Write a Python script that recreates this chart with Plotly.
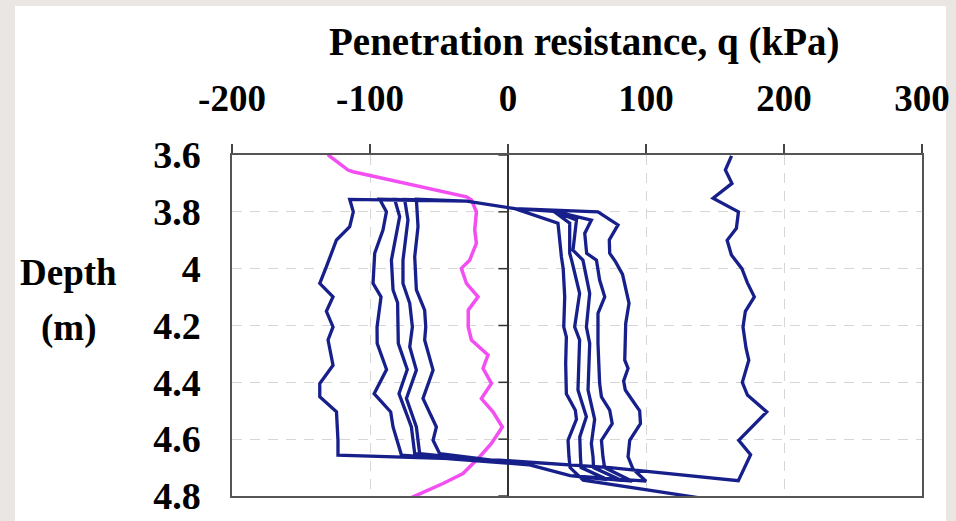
import plotly.graph_objects as go

# ---------------- data ----------------
# first push: far-right curve (q in kPa, depth in m), top -> bottom
far_q = [162, 157.5, 162.3, 148.6, 167.0, 165.5, 158.8, 161.9, 169.5, 173.5, 178.5, 172.0,
         170.3, 172.5, 174.5, 169.8, 173.5, 187.5, 167.2, 175.8, 166.9]
far_d = [3.603, 3.653, 3.700, 3.752, 3.800, 3.858, 3.900, 3.952, 4.000, 4.050, 4.099, 4.150,
         4.205, 4.280, 4.322, 4.400, 4.445, 4.504, 4.604, 4.655, 4.746]
far_ret_q = [74, -6]
far_ret_d = [4.700, 4.674]

# pull-out (negative) curves, listed top -> bottom
L1_q = [-114.7, -112.1, -114.7, -124.3, -128.0, -131.6, -136.4, -126.8, -131.6, -126.8,
        -130.4, -126.8, -136.4, -136.4, -124.3, -123.2, -123.2]
L1_d = [3.756, 3.800, 3.852, 3.899, 3.946, 3.993, 4.052, 4.099, 4.150, 4.205,
        4.251, 4.340, 4.404, 4.451, 4.504, 4.604, 4.656]
L2_q = [-93.0, -88.1, -90.6, -96.6, -97.8, -92.0, -94.9, -94.8, -88.0, -97.0, -85.0, -83.3, -77.2]
L2_d = [3.756, 3.800, 3.864, 3.946, 4.052, 4.099, 4.205, 4.263, 4.355, 4.440, 4.504, 4.557, 4.656]
L3_q = [-82.1, -78.5, -84.5, -83.3, -80.0, -79.7, -79.5, -73.0, -79.0, -70.0, -67.6]
L3_d = [3.756, 3.817, 3.970, 4.075, 4.120, 4.205, 4.263, 4.355, 4.440, 4.557, 4.651]
L4_q = [-74.9, -72.5, -76.1, -76.1, -71.2, -69.3, -71.2, -66.4, -73.6, -66.4, -64.0]
L4_d = [3.756, 3.829, 3.970, 4.052, 4.122, 4.205, 4.275, 4.357, 4.457, 4.557, 4.651]
L5_q = [-66.4, -65.2, -67.6, -66.4, -60.4, -59.6, -60.4, -54.3, -61.6, -51.9, -54.3, -49.5]
L5_d = [3.756, 3.852, 3.958, 4.075, 4.146, 4.205, 4.251, 4.357, 4.457, 4.557, 4.604, 4.651]

# re-push (positive) curves, listed top -> bottom
R5_q = [65.2, 79.7, 73.4, 73.7, 78.0, 83.0, 85.8, 87.7, 85.3, 84.6, 87.0, 83.8, 85.0, 95.4, 96.0,
        88.2, 87.0, 90.6]
R5_d = [3.800, 3.846, 3.899, 3.946, 3.976, 4.020, 4.075, 4.122, 4.193, 4.322, 4.351, 4.395, 4.427,
        4.500, 4.545, 4.604, 4.662, 4.705]
R4_q = [60.4, 55.6, 57.0, 64.1, 66.4, 70.1, 65.2, 65.2, 66.4, 67.7, 73.7, 75.5, 67.7, 68.8, 70.0]
R4_d = [3.829, 3.876, 3.946, 3.970, 4.040, 4.099, 4.157, 4.263, 4.404, 4.451, 4.498, 4.545,
        4.604, 4.662, 4.700]
R3_q = [49.6, 47.1, 54.3, 59.2, 56.8, 59.2, 58.0, 62.8, 60.4, 61.6, 62.0]
R3_d = [3.829, 3.935, 3.970, 4.087, 4.205, 4.263, 4.427, 4.530, 4.615, 4.662, 4.700]
R2_q = [44.7, 44.7, 46.1, 51.9, 48.3, 51.9, 50.7, 56.8, 52.0, 52.5, 53.0]
R2_d = [3.840, 3.946, 3.970, 4.087, 4.205, 4.251, 4.427, 4.521, 4.592, 4.662, 4.700]
R1_q = [36.2, 38.7, 40.0, 41.1, 40.4, 42.3, 41.8, 42.3, 48.8, 49.6, 43.5, 44.2, 45.0]
R1_d = [3.840, 3.958, 4.000, 4.099, 4.205, 4.240, 4.334, 4.440, 4.498, 4.530, 4.604, 4.662, 4.700]

# turn-around links
top_link_q = [-30, 5, 33]
top_link_d = [3.762, 3.789, 3.798]
tip_q = [100, 90, 82, 72]          # bottom tips after R5, R4, R3, R2
tip_d = [4.748, 4.748, 4.745, 4.742]
bot_ret_q = [45, 15]
bot_ret_d = [4.728, 4.690]
exit_q = [54.5, 129.3, 200]
exit_d = [4.744, 4.800, 4.852]

# second test (magenta), top -> bottom
mag_q = [-130.5, -129.2, -115.9, -112.3, -30.1, -26.5, -22.9, -24.1, -22.9, -27.8, -33.8, -30.1,
         -21.7, -28.8, -28.8, -26.5, -14.5, -18.1, -12.0, -19.3, -10.9, -4.1, -12.0, -20.5,
         -32.6, -47.1, -68.8, -80.0]
mag_d = [3.598, 3.604, 3.653, 3.659, 3.747, 3.758, 3.800, 3.864, 3.911, 3.970, 3.999, 4.052,
         4.099, 4.146, 4.205, 4.251, 4.304, 4.351, 4.404, 4.457, 4.504, 4.557, 4.615, 4.662,
         4.721, 4.756, 4.803, 4.825]

x_ticks = [-200, -100, 0, 100, 200, 300]
x_tick_text = ["-200", "-100", "0", "100", "200", "300"]
y_ticks = [3.6, 3.8, 4.0, 4.2, 4.4, 4.6, 4.8]
y_tick_text = ["3.6", "3.8", "4", "4.2", "4.4", "4.6", "4.8"]

# ---------------- build the continuous cyclic path ----------------
lefts = [(L1_q, L1_d), (L2_q, L2_d), (L3_q, L3_d), (L4_q, L4_d), (L5_q, L5_d)]
rights = [(R5_q, R5_d), (R4_q, R4_d), (R3_q, R3_d), (R2_q, R2_d), (R1_q, R1_d)]

path_q = list(far_q) + far_ret_q
path_d = list(far_d) + far_ret_d
for i in range(5):
    lq, ld = lefts[i]
    rq, rd = rights[i]
    link_q = top_link_q if i < 4 else top_link_q[:2]
    link_d = top_link_d if i < 4 else top_link_d[:2]
    if i == 0:
        link_q, link_d = top_link_q[:2], top_link_d[:2]
    path_q += lq[::-1] + link_q
    path_d += ld[::-1] + link_d
    path_q += rq
    path_d += rd
    if i < 4:
        path_q += [tip_q[i]] + bot_ret_q
        path_d += [tip_d[i]] + bot_ret_d
path_q += exit_q
path_d += exit_d

BLUE = "#17208a"
MAG = "#f24ef2"
FONT = "Liberation Serif"

fig = go.Figure()
fig.add_trace(go.Scatter(x=mag_q, y=mag_d, mode="lines",
                         line=dict(color=MAG, width=3.5), showlegend=False, hoverinfo="skip"))
fig.add_trace(go.Scatter(x=path_q, y=path_d, mode="lines",
                         line=dict(color=BLUE, width=3.3), showlegend=False, hoverinfo="skip"))

W, H = 956, 521
L, R, T, B = 232, 34, 155, 25
pw, ph = W - L - R, H - T - B


def px(xp):
    return (xp - L) / pw


def py(yp):
    return (H - B - yp) / ph


shapes = [
    dict(type="rect", xref="paper", yref="paper", x0=px(15), x1=px(946), y0=py(530), y1=py(6),
         fillcolor="white", line=dict(width=0), layer="below"),
]
# y-axis ticks on the zero line (pointing left)
for yv in y_ticks:
    shapes.append(dict(type="line", xref="x", yref="y", x0=-7, x1=0, y0=yv, y1=yv,
                       line=dict(color="#333333", width=1.5)))

fig.update_layout(
    width=W, height=H,
    margin=dict(l=L, r=R, t=T, b=B, autoexpand=False),
    paper_bgcolor="#e9e6e3",
    plot_bgcolor="white",
    shapes=shapes,
    annotations=[
        dict(text="Penetration resistance, q (kPa)", xref="paper", yref="paper",
             x=px(584), y=py(42), showarrow=False, xanchor="center", yanchor="middle",
             font=dict(family=FONT, size=39, color="black", weight="bold")),
        dict(text="Depth", xref="paper", yref="paper", x=px(68), y=py(272), showarrow=False,
             xanchor="center", yanchor="middle",
             font=dict(family=FONT, size=37, color="black", weight="bold")),
        dict(text="(m)", xref="paper", yref="paper", x=px(68), y=py(328), showarrow=False,
             xanchor="center", yanchor="middle",
             font=dict(family=FONT, size=37, color="black", weight="bold")),
    ],
)

fig.update_xaxes(
    range=[-200, 300], side="top", tickmode="array", tickvals=x_ticks, ticktext=x_tick_text,
    ticks="outside", ticklen=9, tickwidth=1.5, tickcolor="#444444",
    showline=True, linecolor="#555555", linewidth=1.5, mirror=True,
    showgrid=True, gridcolor="#d6d6d6", gridwidth=1, griddash="10px,8px",
    zeroline=True, zerolinecolor="#333333", zerolinewidth=1.5,
    tickfont=dict(family=FONT, size=37, color="black", weight="bold"),
    ticklabelstandoff=18, fixedrange=True, automargin=False,
)
fig.update_yaxes(
    range=[4.8, 3.6], tickmode="array", tickvals=y_ticks, ticktext=y_tick_text,
    ticks="", showline=True, linecolor="#555555", linewidth=1.5, mirror=True,
    showgrid=True, gridcolor="#d6d6d6", gridwidth=1, griddash="10px,8px",
    zeroline=False,
    tickfont=dict(family=FONT, size=38, color="black", weight="bold"),
    ticklabelstandoff=22, fixedrange=True, automargin=False,
)

fig.write_html("out.html", config={"displayModeBar": False})
